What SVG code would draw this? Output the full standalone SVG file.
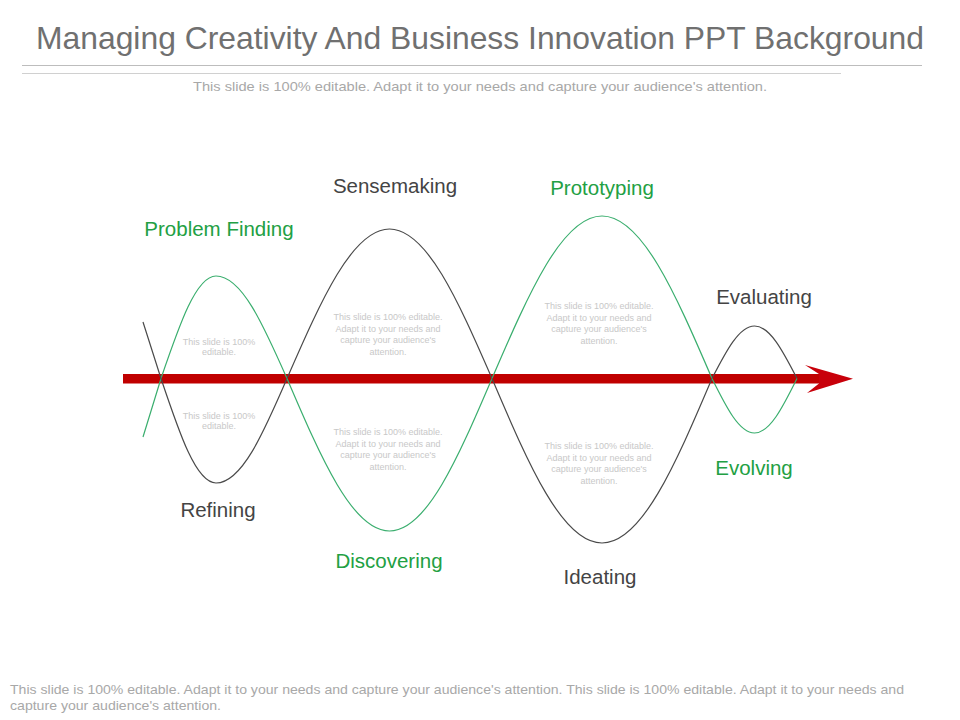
<svg xmlns="http://www.w3.org/2000/svg" width="960" height="720" viewBox="0 0 960 720">
<style>
.title{font-family:"Liberation Sans",Arial,sans-serif;font-size:32px;fill:#707070}
.sub{font-family:"Liberation Sans",Arial,sans-serif;font-size:13px;fill:#a8a8a8}
.lbl{font-family:"Liberation Sans",Arial,sans-serif;font-size:20.5px;text-anchor:middle}
.dark{fill:#444444}
.grn{fill:#22a043}
.tiny{font-family:"Liberation Sans",Arial,sans-serif;font-size:9px;fill:#c8c8c8;text-anchor:middle}
.wb{fill:none;stroke:#4a4a4a;stroke-width:1.2}
.wg{fill:none;stroke:#3aae6e;stroke-width:1.2}
</style>
<rect width="960" height="720" fill="#ffffff"/>
<g id="header">
<text class="title" x="480" y="49" text-anchor="middle" textLength="888" lengthAdjust="spacingAndGlyphs">Managing Creativity And Business Innovation PPT Background</text>
<line x1="22" y1="65.5" x2="922" y2="65.5" stroke="#bdbdbd" stroke-width="1"/>
<line x1="22" y1="73.5" x2="841" y2="73.5" stroke="#d0d0d0" stroke-width="1"/>
<text class="sub" x="480" y="91" text-anchor="middle" textLength="574" lengthAdjust="spacingAndGlyphs">This slide is 100% editable. Adapt it to your needs and capture your audience's attention.</text>
</g>
<g id="connectors">
<rect x="123" y="374" width="697" height="9.5" fill="#c00000"/>
<polygon points="805,365 853,378.7 807,393 819,383.5 819,374" fill="#c8000a"/>
</g>
<g id="problem-finding">
<path class="wg" d="M143,437 L161,378.5 C179.4,324.7 196.1,276 216,276 C241.6,276 263.3,324.7 287,378.5"/>
<text class="lbl grn" x="219" y="236">Problem Finding</text>
<text class="tiny" x="219" y="345">This slide is 100%</text>
<text class="tiny" x="219" y="355">editable.</text>
</g>
<g id="refining">
<path class="wb" d="M143,322 L161,378.5 C179.4,433.4 196.1,483 216,483 C241.6,483 263.3,433.4 287,378.5"/>
<text class="lbl dark" x="218" y="517">Refining</text>
<text class="tiny" x="219" y="419">This slide is 100%</text>
<text class="tiny" x="219" y="429">editable.</text>
</g>
<g id="sensemaking">
<path class="wb" d="M287,378.5 C321.3,300 352.5,229 389.5,229 C426.5,229 457.7,300 492,378.5"/>
<text class="lbl dark" x="395" y="193">Sensemaking</text>
<text class="tiny" x="388" y="320">This slide is 100% editable.</text>
<text class="tiny" x="388" y="331.5">Adapt it to your needs and</text>
<text class="tiny" x="388" y="343">capture your audience's</text>
<text class="tiny" x="388" y="354.5">attention.</text>
</g>
<g id="discovering">
<path class="wg" d="M287,378.5 C321.3,458.6 352.5,531 389.5,531 C426.5,531 457.7,458.6 492,378.5"/>
<text class="lbl grn" x="389" y="568">Discovering</text>
<text class="tiny" x="388" y="435">This slide is 100% editable.</text>
<text class="tiny" x="388" y="446.5">Adapt it to your needs and</text>
<text class="tiny" x="388" y="458">capture your audience's</text>
<text class="tiny" x="388" y="469.5">attention.</text>
</g>
<g id="prototyping">
<path class="wg" d="M492,378.5 C528.8,293.2 562.3,216 602,216 C641.7,216 675.2,293.2 712,378.5"/>
<text class="lbl grn" x="602" y="195">Prototyping</text>
<text class="tiny" x="599" y="309">This slide is 100% editable.</text>
<text class="tiny" x="599" y="320.5">Adapt it to your needs and</text>
<text class="tiny" x="599" y="332">capture your audience's</text>
<text class="tiny" x="599" y="343.5">attention.</text>
</g>
<g id="ideating">
<path class="wb" d="M492,378.5 C528.8,464.9 562.3,543 602,543 C641.7,543 675.2,464.9 712,378.5"/>
<text class="lbl dark" x="600" y="584">Ideating</text>
<text class="tiny" x="599" y="449">This slide is 100% editable.</text>
<text class="tiny" x="599" y="460.5">Adapt it to your needs and</text>
<text class="tiny" x="599" y="472">capture your audience's</text>
<text class="tiny" x="599" y="483.5">attention.</text>
</g>
<g id="evaluating">
<path class="wb" d="M712,378.5 C726.2,350.9 739.2,326 754.5,326 C769.8,326 782.8,350.9 797,378.5"/>
<text class="lbl dark" x="764" y="304">Evaluating</text>
</g>
<g id="evolving">
<path class="wg" d="M712,378.5 C726.2,407.1 739.2,433 754.5,433 C769.8,433 782.8,407.1 797,378.5"/>
<text class="lbl grn" x="754" y="475">Evolving</text>
</g>
<g id="footer">
<text class="sub" x="10" y="694" textLength="894" lengthAdjust="spacingAndGlyphs">This slide is 100% editable. Adapt it to your needs and capture your audience's attention. This slide is 100% editable. Adapt it to your needs and</text>
<text class="sub" x="10" y="710" textLength="211" lengthAdjust="spacingAndGlyphs">capture your audience's attention.</text>
</g>
</svg>
